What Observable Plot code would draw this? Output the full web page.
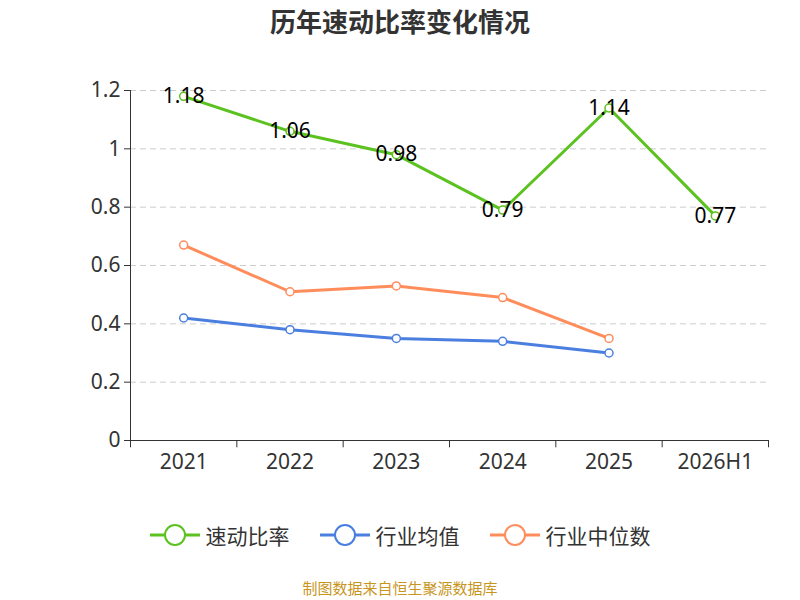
<!DOCTYPE html><html><head><meta charset="utf-8">
<script src="https://cdn.jsdelivr.net/npm/d3@7"></script>
<script src="https://cdn.jsdelivr.net/npm/@observablehq/plot@0.6"></script>
<style>body{margin:0;font-family:"Noto Sans CJK SC","Noto Sans",sans-serif;}
#t{position:absolute;top:2px;width:800px;text-align:center;font-size:26px;font-weight:bold;color:#333}
#lg{position:absolute;top:520px;width:800px;display:flex;justify-content:center;gap:30px;font-size:21px;color:#333}
#lg span{display:flex;align-items:center;gap:6px}
#c{position:absolute;top:577px;width:800px;text-align:center;font-size:15px;color:#c8961e}
#p{position:absolute;top:0;left:0}</style></head><body>
<div id="p"></div><div id="t">历年速动比率变化情况</div>
<div id="lg"></div><div id="c">制图数据来自恒生聚源数据库</div>
<script>
const categories=["2021","2022","2023","2024","2025","2026H1"];
const quick=[1.18,1.06,0.98,0.79,1.14,0.77];
const avg=[0.42,0.38,0.35,0.34,0.30];
const median=[0.67,0.51,0.53,0.49,0.35];
const yTicks=[0,0.2,0.4,0.6,0.8,1,1.2];
const names=["速动比率","行业均值","行业中位数"];
const colors=["#5bc21f","#4a7fe0","#ff8d5c"];
const mk=(v,s)=>v.map((y,i)=>({i,y,s}));
const data=[...mk(quick,0),...mk(avg,1),...mk(median,2)];
const plot=Plot.plot({width:800,height:600,marginTop:90,marginBottom:160,marginLeft:130,marginRight:32,
 style:{fontSize:"21px",fontFamily:"Noto Sans, sans-serif",color:"#333"},
 x:{domain:[-0.5,5.5],ticks:[0,1,2,3,4,5],tickFormat:i=>categories[i],tickSize:0,tickPadding:14,label:null},
 y:{domain:[0,1.2],ticks:yTicks,tickFormat:d=>String(d),tickSize:6,tickPadding:4,label:null},
 marks:[
  Plot.ruleY(yTicks.slice(1),{stroke:"#ccc",strokeDasharray:"6,4"}),
  Plot.ruleX([-0.5,0.5,1.5,2.5,3.5,4.5,5.5],{y1:0,y2:-0.025,stroke:"#333",clip:false}),
  Plot.ruleY([0],{stroke:"#333"}),
  Plot.ruleX([-0.5],{stroke:"#333"}),
  Plot.line(data,{x:"i",y:"y",z:"s",stroke:d=>colors[d.s],strokeWidth:3}),
  Plot.dot(data,{x:"i",y:"y",r:4,fill:"white",stroke:d=>colors[d.s],strokeWidth:1.5}),
  Plot.text(mk(quick,0),{x:"i",y:"y",text:d=>d.y.toFixed(2),fill:"black",fontSize:21,dy:0})
 ]});
document.getElementById("p").append(plot);
const lg=document.getElementById("lg");
names.forEach((n,k)=>{lg.insertAdjacentHTML("beforeend",`<span><svg width="50" height="24"><line x1="0" y1="12" x2="50" y2="12" stroke="${colors[k]}" stroke-width="3"/><circle cx="25" cy="12" r="10" fill="white" stroke="${colors[k]}" stroke-width="2"/></svg>${n}</span>`)});
</script></body></html>
